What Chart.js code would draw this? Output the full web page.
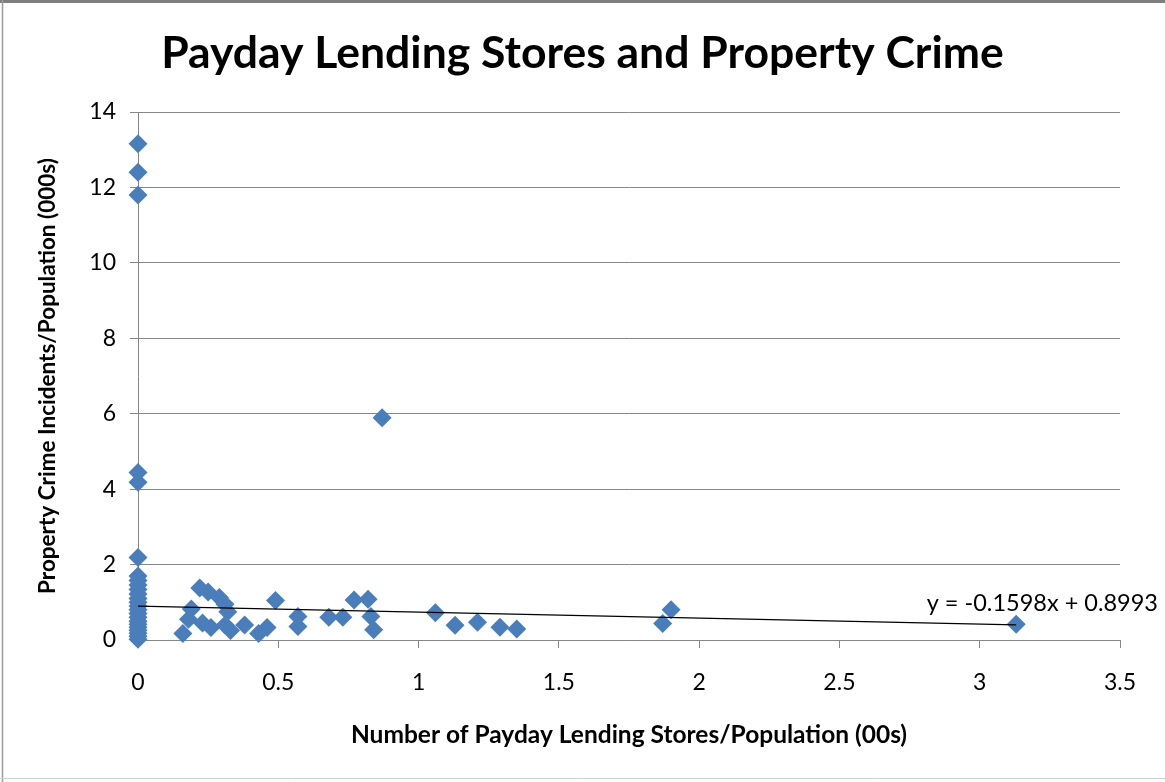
<!DOCTYPE html>
<html>
<head>
<meta charset="utf-8">
<script src="https://cdn.jsdelivr.net/npm/chart.js@4.4.1/dist/chart.umd.min.js"></script>
<style>
  html, body { margin: 0; padding: 0; background: #ffffff; }
  #wrap { width: 1165px; height: 782px; position: relative; }
</style>
</head>
<body>
<div id="wrap"><canvas id="c" width="1165" height="782"></canvas></div>
<script>
// ---- Data ----
const chartTitle = "Payday Lending Stores and Property Crime";
const xAxisTitle = "Number of Payday Lending Stores/Population (00s)";
const yAxisTitle = "Property Crime Incidents/Population (000s)";

// Number of payday lending stores per population (00s)
const storesPerPop = [
  0, 0, 0, 0, 0, 0, 0, 0, 0, 0, 0, 0, 0, 0, 0, 0, 0, 0, 0, 0, 0, 0, 0, 0,
  0.16, 0.18, 0.19, 0.22, 0.25, 0.29, 0.31, 0.32, 0.23, 0.26, 0.31, 0.33,
  0.38, 0.43, 0.46, 0.49, 0.57, 0.57, 0.68, 0.73, 0.77, 0.82, 0.83, 0.84,
  0.87, 1.06, 1.13, 1.21, 1.29, 1.35, 1.87, 1.90, 3.13
];
// Property crime incidents per population (000s)
const crimePerPop = [
  13.16, 12.40, 11.80, 4.44, 4.18, 2.19, 1.70, 1.58, 1.46, 1.34, 1.22, 1.10,
  1.00, 0.90, 0.80, 0.70, 0.60, 0.50, 0.42, 0.34, 0.26, 0.18, 0.10, 0.02,
  0.17, 0.55, 0.82, 1.38, 1.27, 1.13, 0.95, 0.75, 0.45, 0.33, 0.40, 0.25,
  0.40, 0.17, 0.33, 1.05, 0.62, 0.36, 0.60, 0.60, 1.06, 1.08, 0.62, 0.27,
  5.89, 0.72, 0.39, 0.47, 0.34, 0.29, 0.44, 0.80, 0.42
];
// Linear trendline shown on the chart
const trendSlope = -0.1598;
const trendIntercept = 0.8993;
const trendLabel = "y = -0.1598x + 0.8993";

// Axis tick labels
const xTickValues = [0, 0.5, 1, 1.5, 2, 2.5, 3, 3.5];
const xTickLabels = ["0", "0.5", "1", "1.5", "2", "2.5", "3", "3.5"];
const yTickValues = [0, 2, 4, 6, 8, 10, 12, 14];
const yTickLabels = ["0", "2", "4", "6", "8", "10", "12", "14"];

// ---- Build datasets ----
const points = storesPerPop.map((x, i) => ({ x: x, y: crimePerPop[i] }));
const xMinData = Math.min(...storesPerPop);
const xMaxData = Math.max(...storesPerPop);
const trendPoints = [
  { x: xMinData, y: trendSlope * xMinData + trendIntercept },
  { x: xMaxData, y: trendSlope * xMaxData + trendIntercept }
];

const FONT = "Lato, 'Open Sans', sans-serif";
const GRID = "#878787";

function labelFor(values, labels, v) {
  for (let i = 0; i < values.length; i++) {
    if (Math.abs(values[i] - v) < 1e-9) return labels[i];
  }
  return '';
}

const framePlugin = {
  id: 'frame',
  beforeDraw(chart) {
    const ctx = chart.ctx;
    ctx.save();
    ctx.fillStyle = '#ffffff';
    ctx.fillRect(0, 0, chart.width, chart.height);
    ctx.restore();
  },
  afterDraw(chart) {
    const ctx = chart.ctx;
    ctx.save();
    ctx.strokeStyle = '#7f7f7f';
    ctx.lineWidth = 3;
    ctx.beginPath(); ctx.moveTo(0, 1.5); ctx.lineTo(chart.width, 1.5); ctx.stroke();
    ctx.lineWidth = 1.5;
    ctx.strokeStyle = '#9a9a9a';
    ctx.beginPath(); ctx.moveTo(2.5, 0); ctx.lineTo(2.5, chart.height); ctx.stroke();
    ctx.strokeStyle = '#cfcfcf';
    ctx.lineWidth = 1;
    ctx.beginPath(); ctx.moveTo(0, chart.height - 3.5); ctx.lineTo(chart.width, chart.height - 3.5); ctx.stroke();
    // trendline equation label
    ctx.fillStyle = '#000000';
    ctx.font = "23.5px " + FONT;
    ctx.textAlign = 'right';
    ctx.textBaseline = 'middle';
    ctx.fillText(trendLabel, 1158, 603);
    ctx.restore();
  }
};

new Chart(document.getElementById('c'), {
  type: 'scatter',
  data: {
    datasets: [
      {
        type: 'line',
        label: 'Linear trend',
        data: trendPoints,
        borderColor: '#000000',
        borderWidth: 1.2,
        pointRadius: 0,
        fill: false,
        clip: false
      },
      {
        label: 'Property crime',
        data: points,
        pointStyle: 'rectRot',
        pointRadius: 9.5,
        pointHoverRadius: 9.5,
        backgroundColor: '#4a7ebb',
        borderColor: '#4a7ebb',
        borderWidth: 0,
        clip: false
      }
    ]
  },
  plugins: [framePlugin],
  options: {
    responsive: false,
    animation: false,
    events: [],
    layout: { padding: { left: 0, right: 0, top: 0, bottom: 0 } },
    plugins: {
      legend: { display: false },
      tooltip: { enabled: false },
      title: {
        display: true,
        text: chartTitle,
        color: '#000000',
        font: { family: FONT, size: 44.5, weight: 'bold', lineHeight: 1.2 },
        padding: { top: 27, bottom: 31.6 }
      }
    },
    scales: {
      x: {
        type: 'linear',
        min: xTickValues[0],
        max: xTickValues[xTickValues.length - 1],
        afterFit(scale) { scale.height = 142; scale.paddingRight = 45; },
        afterBuildTicks(scale) { scale.ticks = xTickValues.map(v => ({ value: v })); },
        ticks: {
          color: '#000000',
          padding: 21,
          font: { family: FONT, size: 23 },
          callback: (v) => labelFor(xTickValues, xTickLabels, v)
        },
        grid: {
          display: true,
          drawOnChartArea: false,
          drawTicks: true,
          tickLength: 8,
          color: GRID,
          lineWidth: 1
        },
        border: { display: true, color: GRID, width: 1 },
        title: {
          display: true,
          text: xAxisTitle,
          color: '#000000',
          font: { family: FONT, size: 24.5, weight: 'bold', lineHeight: 1.2 },
          padding: { top: 0, bottom: 32 }
        }
      },
      y: {
        type: 'linear',
        min: yTickValues[0],
        max: yTickValues[yTickValues.length - 1],
        afterFit(scale) { scale.width = 138; },
        afterBuildTicks(scale) { scale.ticks = yTickValues.map(v => ({ value: v })); },
        ticks: {
          color: '#000000',
          padding: 14,
          font: { family: FONT, size: 23 },
          callback: (v) => labelFor(yTickValues, yTickLabels, v)
        },
        grid: {
          display: true,
          drawOnChartArea: true,
          drawTicks: true,
          tickLength: 8,
          color: GRID,
          lineWidth: 1
        },
        border: { display: true, color: GRID, width: 1 },
        title: {
          display: true,
          text: yAxisTitle,
          color: '#000000',
          font: { family: FONT, size: 22.5, weight: 'bold', lineHeight: 1.2 },
          padding: { top: 34, bottom: 0 }
        }
      }
    }
  }
});
</script>
</body>
</html>
